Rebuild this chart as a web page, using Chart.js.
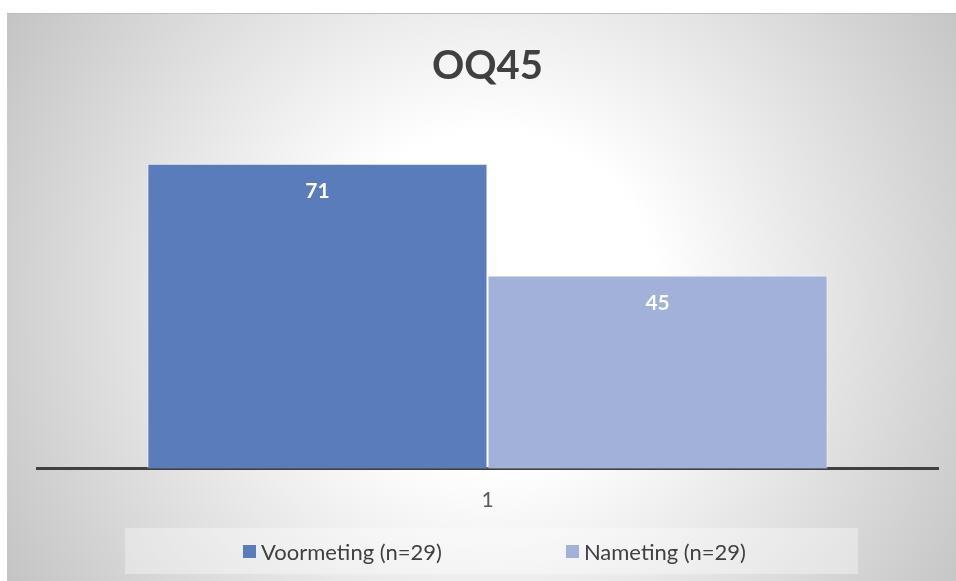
<!DOCTYPE html>
<html>
<head>
<meta charset="utf-8">
<script src="https://cdn.jsdelivr.net/npm/chart.js@4/dist/chart.umd.min.js"></script>
<style>
  html, body { margin: 0; padding: 0; background: #fff; }
  #wrap { position: relative; width: 956px; height: 581px; }
  #leyenda {
    position: absolute; left: 125px; top: 528px; width: 733px; height: 46px;
    background: rgba(255,255,255,0.35);
    display: flex; align-items: center; padding-left: 118px; box-sizing: border-box;
    font-family: Lato, "Open Sans", sans-serif; font-size: 22px; color: #404040;
  }
  .item { display: flex; align-items: center; margin-right: 124px; white-space: nowrap; }
  .cuadro { width: 13px; height: 13px; margin-right: 5px; }
</style>
</head>
<body>
<div id="wrap">
  <canvas id="chart-oq45"></canvas>
  <div id="leyenda"></div>
</div>
<script>
// Datos del grafico
const titulo = 'OQ45';
const categorias = ['1'];
const seriesNombres = ['Voormeting (n=29)', 'Nameting (n=29)'];
const voormeting = [71];
const nameting = [45];
const coloresSeries = ['#5a7cba', '#a2b1da'];

// Leyenda en HTML (el panel claro de abajo)
const leyenda = document.getElementById('leyenda');
seriesNombres.forEach((nombre, i) => {
    const item = document.createElement('div');
    item.className = 'item';
    item.innerHTML = `<span class="cuadro" style="background:${coloresSeries[i]}"></span><span>${nombre}</span>`;
    leyenda.appendChild(item);
});

// Fondo con degradado radial
const fondoPlugin = {
    id: 'fondo',
    beforeDraw(chart) {
        const ctx = chart.ctx;
        ctx.save();
        ctx.fillStyle = '#ffffff';
        ctx.fillRect(0, 0, chart.width, chart.height);
        const x0 = 7, y0 = 13, w = chart.width - x0, h = chart.height - y0;
        const grad = ctx.createRadialGradient(490, 300, 0, 490, 300, 560);
        grad.addColorStop(0, '#ffffff');
        grad.addColorStop(0.3, '#ffffff');
        grad.addColorStop(1, '#c4c4c4');
        ctx.fillStyle = grad;
        ctx.fillRect(x0, y0, w, h);
        ctx.fillStyle = '#bdbdbd';
        ctx.fillRect(x0, y0, w, 1);
        ctx.restore();
    }
};

// Etiquetas de valor dentro de las barras
const etiquetasPlugin = {
    id: 'etiquetas',
    afterDatasetsDraw(chart) {
        const ctx = chart.ctx;
        ctx.save();
        ctx.font = 'bold 21px Lato, "Open Sans", sans-serif';
        ctx.fillStyle = '#ffffff';
        ctx.textAlign = 'center';
        ctx.textBaseline = 'middle';
        chart.data.datasets.forEach((ds, i) => {
            const meta = chart.getDatasetMeta(i);
            meta.data.forEach((bar, j) => {
                ctx.fillText(String(ds.data[j]), bar.x, bar.y + 28);
            });
        });
        ctx.restore();
    }
};

const ctxGrafica = document.getElementById('chart-oq45').getContext('2d');
new Chart(ctxGrafica, {
    type: 'bar',
    data: {
        labels: categorias,
        datasets: [
            {
                label: seriesNombres[0],
                data: voormeting,
                backgroundColor: coloresSeries[0],
                borderColor: 'rgba(255,255,255,0.55)',
                borderWidth: 1,
                categoryPercentage: 0.755,
                barPercentage: 1
            },
            {
                label: seriesNombres[1],
                data: nameting,
                backgroundColor: coloresSeries[1],
                borderColor: 'rgba(255,255,255,0.55)',
                borderWidth: 1,
                categoryPercentage: 0.755,
                barPercentage: 1
            }
        ]
    },
    options: {
        responsive: true,
        maintainAspectRatio: false,
        animation: false,
        layout: { padding: { top: 13, left: 37, right: 18, bottom: 49 } },
        scales: {
            x: {
                grid: { display: false, drawTicks: false },
                border: { display: true, color: '#404040', width: 3 },
                ticks: {
                    color: '#595959',
                    padding: 19,
                    font: { family: 'Lato, "Open Sans", sans-serif', size: 21 }
                }
            },
            y: {
                display: false,
                min: 0,
                max: 80
            }
        },
        plugins: {
            title: {
                display: true,
                text: titulo,
                color: '#404040',
                padding: { top: 29, bottom: 35 },
                font: { family: 'Lato, "Open Sans", sans-serif', size: 40, weight: 'bold' }
            },
            legend: { display: false },
            tooltip: { enabled: false }
        }
    },
    plugins: [fondoPlugin, etiquetasPlugin]
});
</script>
</body>
</html>
